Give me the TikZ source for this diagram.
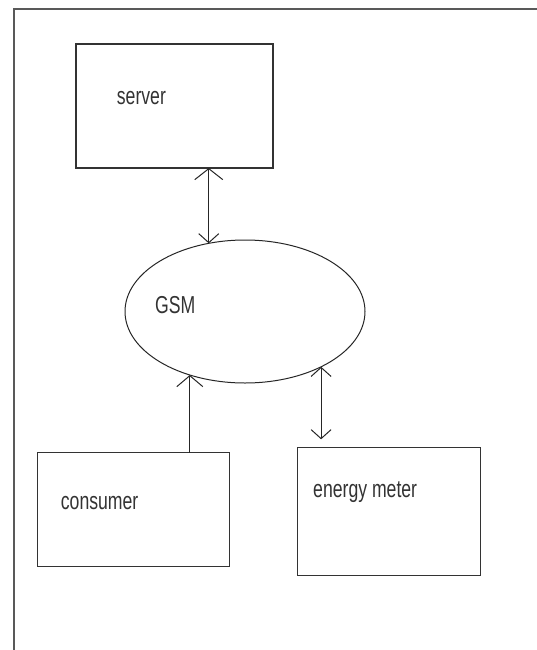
\documentclass[tikz,border=0pt]{standalone}
\usepackage{fontspec}
\usepackage{graphicx}
\setmainfont{Liberation Sans}
\usetikzlibrary{arrows.meta,calc,shapes.geometric}
\newcommand{\narrowtxt}[1]{\scalebox{0.72}[1]{#1}}
\begin{document}
\begin{tikzpicture}[x=1pt,y=-1pt,
  boxshape/.style={draw=black!80, line width=1.1pt, rectangle, inner sep=0pt, outer sep=0pt},
  ellshape/.style={draw=black!85, line width=1pt, ellipse, inner sep=0pt, outer sep=0pt},
  lbl/.style={anchor=base west, inner sep=0pt, font=\fontsize{24.5}{28}\selectfont, text=black!80},
  conn/.style={draw=black!85, line width=1pt}
]
\useasboundingbox (0,0) rectangle (537,650);
% frame
\draw[draw=black!65, line width=2pt] (13.5,650) -- (13.5,9.5) -- (537,9.5);
% nodes
\node[boxshape, minimum width=197pt, minimum height=124pt] (server) at (174.5,106) {};
\node[ellshape, minimum width=240pt, minimum height=143pt] (gsm) at (245,311.5) {};
\node[boxshape, minimum width=191.6pt, minimum height=114pt] (consumer) at (133.5,509.7) {};
\node[boxshape, minimum width=182.7pt, minimum height=128.4pt] (meter) at (388.7,511.5) {};
% labels
\node[lbl] (serverlbl) at (116.7,105) {\narrowtxt{server}};
\node[lbl] (gsmlbl) at (155,313) {\narrowtxt{GSM}};
\node[lbl] (consumerlbl) at (60.7,509) {\narrowtxt{consumer}};
\node[lbl] (meterlbl) at (313,497) {\narrowtxt{energy meter}};
% connectors
\draw[conn, arrows={Straight Barb[length=9pt,width=20pt]-Straight Barb[length=11pt,width=28pt]}]
  (gsm.118) -- (gsm.118 |- server.south);
\draw[conn, arrows={-Straight Barb[length=11pt,width=26pt]}]
  (gsm.229.6 |- consumer.north) -- (gsm.229.6);
\draw[conn, shorten >=8pt, arrows={Straight Barb[length=9pt,width=20pt]-Straight Barb[length=9pt,width=20pt]}]
  (gsm.324) -- (gsm.324 |- meter.north);
\end{tikzpicture}
\end{document}
